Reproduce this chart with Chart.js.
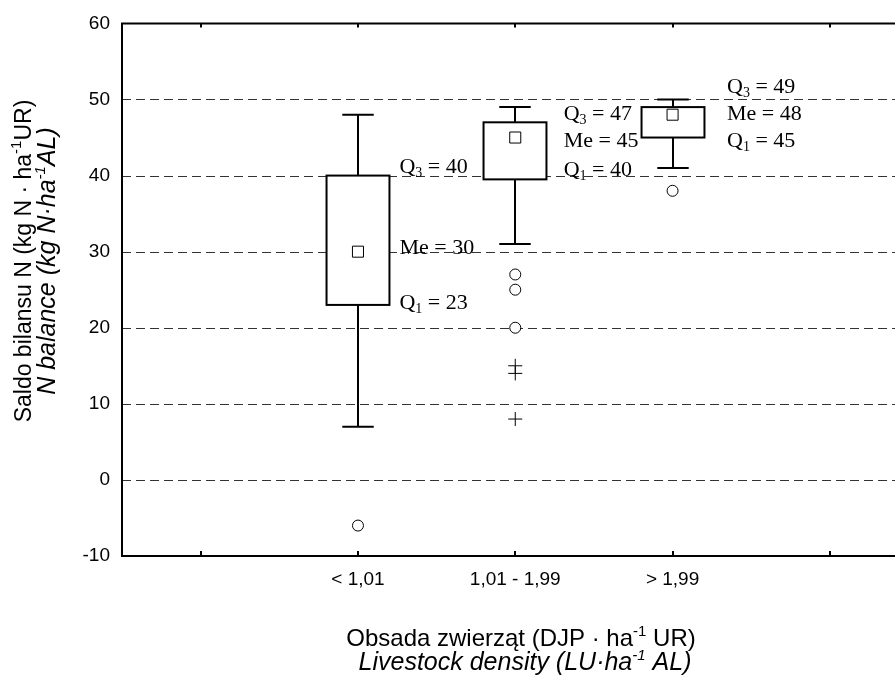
<!DOCTYPE html>
<html>
<head>
<meta charset="utf-8">
<script src="https://cdn.jsdelivr.net/npm/chart.js@4.4.1/dist/chart.umd.min.js"></script>
<style>
  body { margin: 0; background: #fff; }
  #wrap { width: 895px; height: 678px; }
</style>
</head>
<body>
<div id="wrap"><canvas id="box-chart" width="895" height="678"></canvas></div>
<script>
// box plot data
const categories = ['< 1,01', '1,01 - 1,99', '> 1,99'];
const whiskerLow = [7, 31, 41];
const q1 = [23, 39.5, 45];
const medians = [30, 45, 48];
const q3 = [40, 47, 49];
const whiskerHigh = [48, 49, 50];
const outliers = [[-6], [27, 25, 20], [38]];
const extremes = [[], [15, 14, 8], []];
const q1Text = [23, 40, 45];
const meText = [30, 45, 48];
const q3Text = [40, 47, 49];
const yTicks = [-10, 0, 10, 20, 30, 40, 50, 60];

// annotation placement (layout only)
const labelGap = [10, 17, 23];
const labelY = {
    q3: [41.2, 48.2, 51.8],
    me: [30.6, 44.7, 48.2],
    q1: [23.4, 40.9, 44.7]
};
const boxHalf = 0.2, capHalf = 0.1;
const serif = '"Liberation Serif"';

function drawRich(ctx, parts, x, y, font, supFont) {
    let total = 0;
    parts.forEach(p => {
        ctx.font = p.sup ? supFont : font;
        p.w = ctx.measureText(p.t).width;
        total += p.w;
    });
    let cx = x - total / 2;
    ctx.textAlign = 'left';
    ctx.textBaseline = 'alphabetic';
    parts.forEach(p => {
        ctx.font = p.sup ? supFont : font;
        ctx.fillText(p.t, cx, p.sup ? y - 10 : y);
        cx += p.w;
    });
}

function drawQ(ctx, sub, rest, x, y) {
    ctx.textAlign = 'left';
    ctx.textBaseline = 'alphabetic';
    ctx.font = '22px ' + serif;
    ctx.fillText('Q', x, y);
    let w = ctx.measureText('Q').width;
    ctx.font = '14px ' + serif;
    ctx.fillText(sub, x + w, y + 4);
    w += ctx.measureText(sub).width;
    ctx.font = '22px ' + serif;
    ctx.fillText(rest, x + w, y);
}

const boxPlugin = {
    id: 'boxes',
    beforeDatasetsDraw(chart) {
        const { ctx, chartArea, scales: { x, y } } = chart;
        ctx.save();
        ctx.strokeStyle = '#333';
        ctx.lineWidth = 1;
        ctx.setLineDash([9, 5]);
        yTicks.forEach(v => {
            if (v <= y.min || v >= y.max) return;
            const py = Math.round(y.getPixelForValue(v)) + 0.5;
            ctx.beginPath();
            ctx.moveTo(chartArea.left, py);
            ctx.lineTo(chart.width, py);
            ctx.stroke();
        });
        ctx.setLineDash([]);
        ctx.lineWidth = 2;
        ctx.strokeStyle = '#000';
        categories.forEach((c, i) => {
            const cx = Math.round(x.getPixelForValue(i + 1));
            const bw = x.getPixelForValue(i + 1 + boxHalf) - x.getPixelForValue(i + 1);
            const cw = x.getPixelForValue(i + 1 + capHalf) - x.getPixelForValue(i + 1);
            const yLo = y.getPixelForValue(whiskerLow[i]);
            const yHi = y.getPixelForValue(whiskerHigh[i]);
            const yQ1 = y.getPixelForValue(q1[i]);
            const yQ3 = y.getPixelForValue(q3[i]);
            ctx.beginPath();
            ctx.moveTo(cx, yHi); ctx.lineTo(cx, yQ3);
            ctx.moveTo(cx, yQ1); ctx.lineTo(cx, yLo);
            ctx.moveTo(cx - cw, yHi); ctx.lineTo(cx + cw, yHi);
            ctx.moveTo(cx - cw, yLo); ctx.lineTo(cx + cw, yLo);
            ctx.stroke();
            ctx.fillStyle = '#fff';
            ctx.fillRect(cx - bw, yQ3, 2 * bw, yQ1 - yQ3);
            ctx.strokeRect(cx - bw, yQ3, 2 * bw, yQ1 - yQ3);
        });
        ctx.restore();
    },
    afterDraw(chart) {
        const { ctx, chartArea, scales: { x, y } } = chart;
        const right = chart.width;
        ctx.save();
        // frame
        ctx.strokeStyle = '#000';
        ctx.lineWidth = 2;
        ctx.beginPath();
        ctx.moveTo(right, chartArea.top);
        ctx.lineTo(chartArea.left, chartArea.top);
        ctx.lineTo(chartArea.left, chartArea.bottom);
        ctx.lineTo(right, chartArea.bottom);
        ctx.stroke();
        // inward tick marks
        ctx.beginPath();
        [0, 1, 2, 3, 4].forEach(v => {
            const px = Math.round(x.getPixelForValue(v));
            ctx.moveTo(px, chartArea.bottom); ctx.lineTo(px, chartArea.bottom - 5);
            ctx.moveTo(px, chartArea.top); ctx.lineTo(px, chartArea.top + 4);
        });
        ctx.stroke();

        // annotations
        ctx.fillStyle = '#000';
        categories.forEach((c, i) => {
            const lx = x.getPixelForValue(i + 1 + boxHalf) + labelGap[i];
            drawQ(ctx, '3', ' = ' + q3Text[i], lx, y.getPixelForValue(labelY.q3[i]) + 7);
            ctx.font = '22px ' + serif;
            ctx.fillText('Me = ' + meText[i], lx, y.getPixelForValue(labelY.me[i]) + 7);
            drawQ(ctx, '1', ' = ' + q1Text[i], lx, y.getPixelForValue(labelY.q1[i]) + 7);
        });

        // axis titles
        drawRich(ctx, [{ t: 'Obsada zwierząt (DJP · ha' }, { t: '-1', sup: true }, { t: ' UR)' }], 521, 646,
            '24px "Liberation Sans"', '15px "Liberation Sans"');
        drawRich(ctx, [{ t: 'Livestock density (LU·ha' }, { t: '-1', sup: true }, { t: ' AL)' }], 525, 670,
            'italic 25px "Liberation Sans"', 'italic 15px "Liberation Sans"');

        ctx.translate(0, 261);
        ctx.rotate(-Math.PI / 2);
        drawRich(ctx, [{ t: 'Saldo bilansu N (kg N · ha' }, { t: '-1', sup: true }, { t: 'UR)' }], 0, 31,
            '23px "Liberation Sans"', '15px "Liberation Sans"');
        drawRich(ctx, [{ t: 'N balance (kg N·ha' }, { t: '-1', sup: true }, { t: 'AL)' }], 0, 55,
            'italic 25px "Liberation Sans"', 'italic 15px "Liberation Sans"');
        ctx.restore();
    }
};

const medianPoints = medians.map((v, i) => ({ x: i + 1, y: v }));
const outlierPoints = outliers.flatMap((list, i) => list.map(v => ({ x: i + 1, y: v })));
const extremePoints = extremes.flatMap((list, i) => list.map(v => ({ x: i + 1, y: v })));

const tickFont = { family: '"Liberation Sans"', size: 19 };

new Chart(document.getElementById('box-chart').getContext('2d'), {
    type: 'scatter',
    data: {
        datasets: [{
            label: 'Me',
            data: medianPoints,
            pointStyle: 'rect',
            pointRadius: 7.8,
            borderWidth: 1,
            borderColor: '#000',
            backgroundColor: '#fff'
        }, {
            label: 'outliers',
            data: outlierPoints,
            pointStyle: 'circle',
            pointRadius: 5.5,
            borderWidth: 1,
            borderColor: '#000',
            backgroundColor: '#fff'
        }, {
            label: 'extremes',
            data: extremePoints,
            pointStyle: 'cross',
            pointRadius: 7,
            borderWidth: 1,
            borderColor: '#000'
        }]
    },
    options: {
        responsive: false,
        animation: false,
        events: [],
        layout: { autoPadding: false, padding: { top: 20, left: 0, right: 0, bottom: 0 } },
        scales: {
            x: {
                type: 'linear',
                min: -0.5,
                max: 4.414,
                afterBuildTicks: (scale) => { scale.ticks = [0, 1, 2, 3, 4].map(v => ({ value: v })); },
                afterFit: (scale) => { scale.height = 122; },
                ticks: {
                    callback: (value) => categories[value - 1] || '',
                    font: tickFont,
                    color: '#000',
                    padding: 12,
                    maxRotation: 0,
                    autoSkip: false
                },
                grid: { display: false, drawTicks: false },
                border: { display: false }
            },
            y: {
                min: -10,
                max: 60,
                afterBuildTicks: (scale) => { scale.ticks = yTicks.map(v => ({ value: v })); },
                afterFit: (scale) => { scale.width = 122; },
                ticks: {
                    font: tickFont,
                    color: '#000',
                    padding: 12
                },
                grid: { display: false, drawTicks: false },
                border: { display: false }
            }
        },
        plugins: {
            legend: { display: false },
            tooltip: { enabled: false }
        }
    },
    plugins: [boxPlugin]
});
</script>
</body>
</html>
